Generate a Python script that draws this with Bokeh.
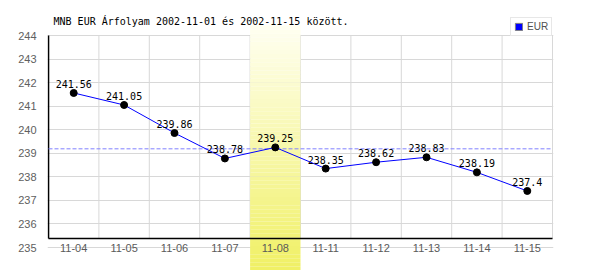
from bokeh.plotting import figure
from bokeh.models import Range1d, FixedTicker, Legend, LegendItem, ColumnDataSource
from bokeh.core.properties import value
from bokeh.embed import file_html
from bokeh.resources import INLINE

# ---- data ----
dates = ["11-04", "11-05", "11-06", "11-07", "11-08",
         "11-11", "11-12", "11-13", "11-14", "11-15"]
rates = [241.56, 241.05, 239.86, 238.78, 239.25,
         238.35, 238.62, 238.83, 238.19, 237.40]
rate_labels = ["241.56", "241.05", "239.86", "238.78", "239.25",
               "238.35", "238.62", "238.83", "238.19", "237.4"]
y_ticks = [235, 236, 237, 238, 239, 240, 241, 242, 243, 244]
highlight_date = "11-08"
series_name = "EUR"
title_text = "MNB EUR Árfolyam 2002-11-01 és 2002-11-15 között."

# ---- layout helpers (pixels -> data) ----
Y_MIN, Y_MAX = y_ticks[0], y_ticks[-1]
PX_PER_Y = 212.0 / (Y_MAX - Y_MIN)      # 244 at px 35, 235 at px 247
PX_PER_X = 50.4
n = len(dates)
xs = [i + 0.5 for i in range(n)]

y_top = Y_MAX + 35 / PX_PER_Y
y_bot = Y_MIN - 23 / PX_PER_Y
axis_y = Y_MIN + 9 / PX_PER_Y           # black baseline at px 238
x_lo = -1 / PX_PER_X
x_hi = n + 1 / PX_PER_X

p = figure(width=600, height=270,
           x_range=Range1d(x_lo, x_hi), y_range=Range1d(y_bot, y_top),
           min_border_left=47, min_border_right=47,
           min_border_top=0, min_border_bottom=0,
           output_backend="svg", toolbar_location=None)
p.outline_line_color = None
p.background_fill_color = "white"
p.border_fill_color = "white"
p.xaxis.visible = False
p.xgrid.visible = False

yax = p.yaxis[0]
yax.ticker = FixedTicker(ticks=y_ticks)
yax.axis_line_color = None
yax.major_tick_line_color = None
yax.minor_tick_line_color = None
yax.major_label_standoff = 5
yax.major_label_text_font = "Liberation Sans"
yax.major_label_text_font_size = "11px"
yax.major_label_text_color = "#606060"

p.ygrid.ticker = FixedTicker(ticks=y_ticks)
p.ygrid.grid_line_color = "#d8d8d8"

# vertical grid lines between categories
bounds = list(range(1, n + 1))
p.segment(x0=bounds, y0=[axis_y] * n, x1=bounds, y1=[Y_MAX] * n,
          line_color="#d8d8d8", line_width=1)

# highlighted column with vertical gradient
hi = dates.index(highlight_date)
band_top = Y_MAX + 10 / PX_PER_Y
steps = 60
c_top = (255, 255, 242)
c_bot = (240, 240, 100)
tops, bots, cols = [], [], []
for k in range(steps):
    t0 = band_top - (band_top - y_bot) * k / steps
    t1 = band_top - (band_top - y_bot) * (k + 1) / steps
    f = (k + 0.5) / steps
    c = tuple(int(round(c_top[j] + (c_bot[j] - c_top[j]) * f)) for j in range(3))
    tops.append(t0)
    bots.append(t1 - 0.001)
    cols.append("#%02x%02x%02x" % c)
p.quad(left=[hi] * steps, right=[hi + 1] * steps, top=tops, bottom=bots,
       fill_color=cols, line_color=None)

# axis lines
p.segment(x0=[0, 0], y0=[axis_y, axis_y], x1=[0, n], y1=[Y_MAX, axis_y],
          line_color="black", line_width=1.6)

# average dashed line
avg = sum(rates) / len(rates)
p.segment(x0=[0], y0=[avg], x1=[n], y1=[avg],
          line_color="#8080ff", line_dash="4 2", line_width=1)

src = ColumnDataSource(dict(x=xs, y=rates, lbl=rate_labels))
p.line("x", "y", source=src, line_color="#0000ff", line_width=1)
p.scatter("x", "y", source=src, size=7, fill_color="black", line_color="black")
p.text("x", "y", text="lbl", source=src, text_align="center",
       text_baseline="bottom", y_offset=-5,
       text_font=value("DejaVu Sans Mono"), text_font_size="10px",
       text_color="black")

# category labels
p.text(x=xs, y=[Y_MIN] * n, text=dates, text_align="center",
       text_baseline="middle", text_font=value("Liberation Sans"),
       text_font_size="11px", text_color="#5a5a5a")

# title
p.text(x=[0.1], y=[Y_MAX + 14 / PX_PER_Y], text=[title_text],
       text_align="left", text_baseline="middle",
       text_font=value("DejaVu Sans Mono"), text_font_size="10px",
       text_color="black")

# legend (swatch renderer holds no visible data)
nan = float("nan")
dummy = p.quad(left=[nan], right=[nan], top=[nan], bottom=[nan],
               fill_color="#0000ff", line_color="#808080")
legend = Legend(items=[LegendItem(label=series_name, renderers=[dummy])],
                location=(463, 234), padding=3, spacing=0, margin=0,
                glyph_width=9, glyph_height=9, label_height=9,
                label_standoff=4,
                label_text_font="Liberation Sans", label_text_font_size="10px",
                label_text_color="#505050",
                border_line_color="#d0d0d0", border_line_width=1,
                background_fill_color="white", background_fill_alpha=1.0)
p.add_layout(legend)

open("out.html", "w").write(file_html(p, INLINE))
